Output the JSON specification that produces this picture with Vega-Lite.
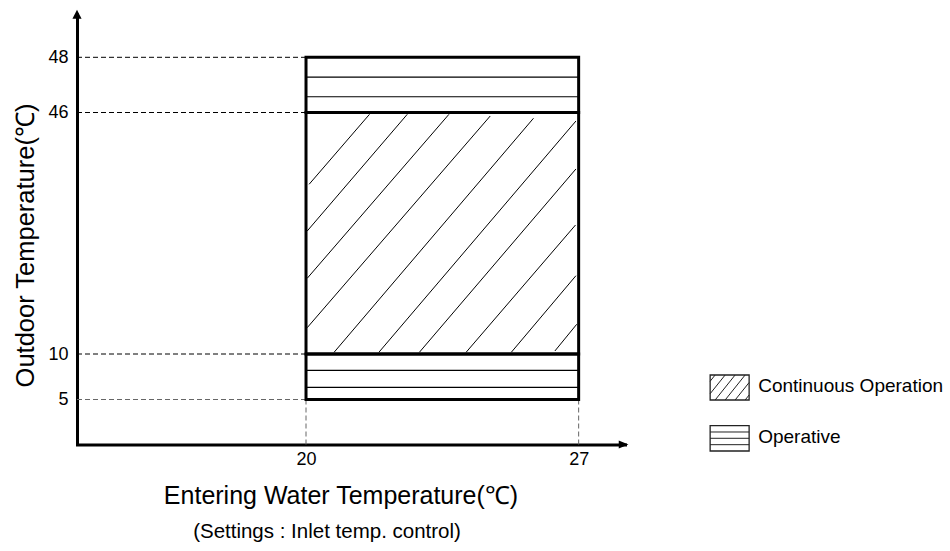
{
  "$schema": "https://vega.github.io/schema/vega-lite/v6.json",
  "width": 548,
  "height": 431.5,
  "autosize": {"type": "none"},
  "padding": {"left": 77, "top": 13, "right": 325, "bottom": 106.5},
  "background": "white",
  "config": {
    "view": {"stroke": null},
    "font": "Liberation Sans",
    "text": {"font": "Liberation Sans"}
  },
  "title": {
    "text": "(Settings : Inlet temp. control)",
    "orient": "bottom",
    "anchor": "middle",
    "frame": "group",
    "fontSize": 20.5,
    "fontWeight": "normal",
    "font": "Liberation Sans",
    "color": "#000",
    "offset": 14,
    "dx": -24
  },
  "datasets": {
    "levelGuides": [
      {"x": 14.12, "x2": 20, "y": 48, "y2": 48},
      {"x": 14.12, "x2": 20, "y": 46, "y2": 46},
      {"x": 14.12, "x2": 20, "y": 10, "y2": 10}
    ],
    "baseGuides": [
      {"x": 14.12, "x2": 20, "y": 5, "y2": 5},
      {"x": 20, "x2": 20, "y": 0, "y2": 5},
      {"x": 27, "x2": 27, "y": 0, "y2": 5}
    ],
    "zones": [
      {"zone": "Operative", "x": 20, "x2": 27, "y": 46, "y2": 48},
      {"zone": "Continuous Operation", "x": 20, "x2": 27, "y": 10, "y2": 46},
      {"zone": "Operative", "x": 20, "x2": 27, "y": 5, "y2": 10}
    ],
    "operativeHatch": [
      {"x": 20, "x2": 27, "y": 47.28},
      {"x": 20, "x2": 27, "y": 46.57},
      {"x": 20, "x2": 27, "y": 8.21},
      {"x": 20, "x2": 27, "y": 6.34}
    ],
    "continuousHatch": [
      {"x": 21.63, "y": 45.73, "x2": 20.08, "y2": 35.30},
      {"x": 22.60, "y": 45.73, "x2": 20.03, "y2": 28.33},
      {"x": 23.67, "y": 45.73, "x2": 20.03, "y2": 21.28},
      {"x": 24.73, "y": 45.48, "x2": 20.03, "y2": 13.92},
      {"x": 25.84, "y": 45.14, "x2": 20.72, "y2": 10.25},
      {"x": 26.93, "y": 44.73, "x2": 21.87, "y2": 10.25},
      {"x": 26.93, "y": 37.58, "x2": 22.91, "y2": 10.25},
      {"x": 26.92, "y": 29.23, "x2": 24.11, "y2": 10.25},
      {"x": 26.93, "y": 21.67, "x2": 25.27, "y2": 10.25},
      {"x": 26.95, "y": 14.43, "x2": 26.39, "y2": 10.45}
    ],
    "axisArrows": [
      {"axis": "x", "x": 28.19, "y": 0},
      {"axis": "y", "x": 14.12, "y": 49.6}
    ],
    "legendSwatches": [
      {"label": "Continuous Operation", "x": 30.376, "x2": 31.377, "y": 7.692, "y2": 4.944},
      {"label": "Operative", "x": 30.376, "x2": 31.377, "y": 2.09, "y2": -0.72}
    ],
    "legendHatch": [
      {"x": 30.376, "y": 7.005, "x2": 30.504, "y2": 7.692},
      {"x": 30.376, "y": 5.632, "x2": 30.761, "y2": 7.692},
      {"x": 30.504, "y": 4.944, "x2": 31.017, "y2": 7.692},
      {"x": 30.761, "y": 4.944, "x2": 31.274, "y2": 7.692},
      {"x": 31.017, "y": 4.944, "x2": 31.377, "y2": 6.868},
      {"x": 31.274, "y": 4.944, "x2": 31.377, "y2": 5.495}
    ],
    "legendLines": [
      {"x": 30.376, "x2": 31.377, "y": 1.39},
      {"x": 30.376, "x2": 31.377, "y": 0.69},
      {"x": 30.376, "x2": 31.377, "y": -0.02}
    ],
    "legendLabels": [
      {"label": "Continuous Operation", "x": 31.61, "y": 5.77},
      {"label": "Operative", "x": 31.61, "y": 0.17}
    ]
  },
  "encoding": {
    "x": {
      "field": "x", "type": "quantitative",
      "scale": {"domain": [14.12, 28.19], "nice": false, "zero": false},
      "axis": {
        "values": [20, 27], "ticks": false, "grid": false,
        "domainColor": "#000", "domainWidth": 3, "domainCap": "square",
        "labelFontSize": 18, "labelColor": "#000", "labelPadding": 6, "labelFont": "Liberation Sans",
        "title": "Entering Water Temperature(℃)",
        "titleFontSize": 25, "titleFontWeight": "normal", "titleColor": "#000", "titleFont": "Liberation Sans",
        "titleX": 263.5, "titleY": 58.5, "titleAlign": "center", "titleBaseline": "alphabetic"
      }
    },
    "y": {
      "field": "y", "type": "quantitative",
      "scale": {"domain": [0, 5, 10, 46, 48, 49.6], "range": [431.5, 386.5, 341, 99.5, 44.3, 0], "nice": false, "zero": false},
      "axis": {
        "values": [5, 10, 46, 48], "ticks": false, "grid": false,
        "domainColor": "#000", "domainWidth": 3,
        "labelFontSize": 18, "labelColor": "#000", "labelPadding": 9, "labelFont": "Liberation Sans",
        "title": "Outdoor Temperature(℃)",
        "titleFontSize": 25.5, "titleFontWeight": "normal", "titleColor": "#000", "titleFont": "Liberation Sans",
        "titleX": -52, "titleY": 232, "titleAngle": 270, "titleAlign": "center", "titleBaseline": "middle"
      }
    }
  },
  "layer": [
    {
      "data": {"name": "levelGuides"},
      "mark": {"type": "rule", "stroke": "#000", "strokeWidth": 1, "strokeDash": [5, 3]},
      "encoding": {"x2": {"field": "x2"}, "y2": {"field": "y2"}}
    },
    {
      "data": {"name": "baseGuides"},
      "mark": {"type": "rule", "stroke": "#666", "strokeWidth": 1, "strokeDash": [5, 3]},
      "encoding": {"x2": {"field": "x2"}, "y2": {"field": "y2"}}
    },
    {
      "data": {"name": "continuousHatch"},
      "mark": {"type": "rule", "stroke": "#000", "strokeWidth": 1},
      "encoding": {"x2": {"field": "x2"}, "y2": {"field": "y2"}}
    },
    {
      "data": {"name": "operativeHatch"},
      "mark": {"type": "rule", "stroke": "#000", "strokeWidth": 1.2},
      "encoding": {"x2": {"field": "x2"}}
    },
    {
      "data": {"name": "zones"},
      "mark": {"type": "rect", "fill": "transparent", "stroke": "#000", "strokeWidth": 3},
      "encoding": {"x2": {"field": "x2"}, "y2": {"field": "y2"}}
    },
    {
      "data": {"name": "axisArrows"},
      "mark": {"type": "point", "filled": true, "opacity": 1, "color": "#000", "size": 130, "strokeWidth": 0},
      "encoding": {
        "shape": {
          "field": "axis", "type": "nominal", "legend": null,
          "scale": {"domain": ["x", "y"], "range": ["M0.6,0L-1.1,-0.7L-1.1,0.7Z", "M0,-0.55L-0.8,1L0.8,1Z"]}
        }
      }
    },
    {
      "data": {"name": "legendHatch"},
      "mark": {"type": "rule", "stroke": "#222", "strokeWidth": 1},
      "encoding": {"x2": {"field": "x2"}, "y2": {"field": "y2"}}
    },
    {
      "data": {"name": "legendLines"},
      "mark": {"type": "rule", "stroke": "#222", "strokeWidth": 1},
      "encoding": {"x2": {"field": "x2"}}
    },
    {
      "data": {"name": "legendSwatches"},
      "mark": {"type": "rect", "fill": "transparent", "stroke": "#222", "strokeWidth": 1.3},
      "encoding": {"x2": {"field": "x2"}, "y2": {"field": "y2"}}
    },
    {
      "data": {"name": "legendLabels"},
      "mark": {"type": "text", "align": "left", "baseline": "alphabetic", "fontSize": 19, "color": "#000", "font": "Liberation Sans"},
      "encoding": {"text": {"field": "label"}}
    }
  ]
}
